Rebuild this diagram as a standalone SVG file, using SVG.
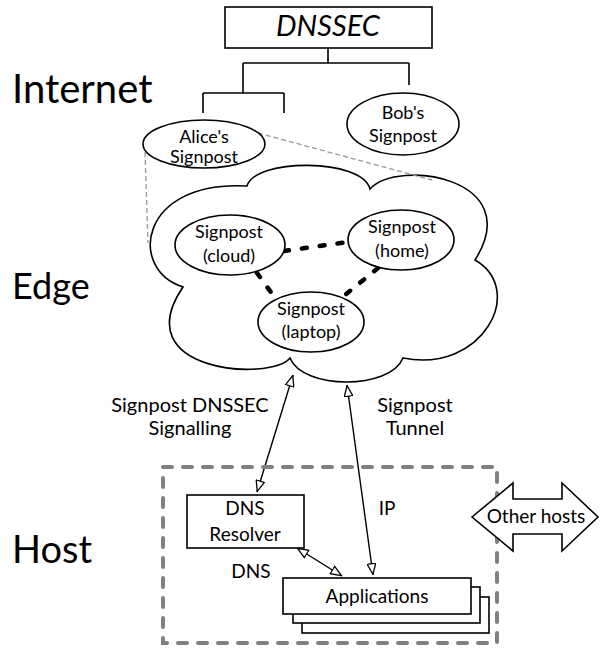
<svg xmlns="http://www.w3.org/2000/svg" width="600" height="648" viewBox="0 0 600 648">
<defs>
<style>
text{font-family:Lato,"Liberation Sans",sans-serif;fill:#000;text-anchor:middle}
.big{font-size:40px;text-anchor:start}
.lbl{font-size:19px}
.el{font-size:18px}
.shape{fill:#fff;stroke:#000;stroke-width:1.6}
.tree{fill:none;stroke:#000;stroke-width:1.6}
.arr{fill:none;stroke:#000;stroke-width:1.4;marker-start:url(#oa);marker-end:url(#oa)}
.peer{fill:none;stroke:#000;stroke-width:4.5;stroke-dasharray:5 13;stroke-linecap:round}
.zoomln{fill:none;stroke:#999;stroke-width:1.3;stroke-dasharray:5 3}
</style>
<marker id="oa" viewBox="0 0 12 10" refX="12" refY="5" markerWidth="12" markerHeight="10" markerUnits="userSpaceOnUse" orient="auto-start-reverse">
<path d="M0.7,0.7 L11.3,5 L0.7,9.3 Z" fill="#fff" stroke="#000" stroke-width="1.3"/>
</marker>
</defs>
<rect width="600" height="648" fill="#fff"/>

<g id="layer-labels">
<text class="big" x="12" y="103">Internet</text>
<text class="big" x="12" y="299" style="font-size:36px">Edge</text>
<text class="big" x="12" y="563" style="font-size:38px">Host</text>
</g>

<g id="edge-cloud">
<path class="shape" d="M247,186 C255,158 362,158 370,189 C398,158 527,178 475,260 C527,290 482,374 403,358 C390,390 303,390 290,358 C270,382 125,372 183,287 C128,270 138,180 247,186 Z"/>
</g>

<g id="connectors">
<path class="tree" d="M328,48 V63 M243,63 H409 M243,63 V93 M409,63 V85 M203,93 H284 M203,93 V113 M284,93 V113"/>
<path class="zoomln" d="M145,152 L148,243 M258,133 L432,180"/>
<path class="peer" d="M284,251 L348,242 M257,273 L273,295 M378,268 L345,295"/>
<path class="arr" d="M257,492 L293,375"/>
<path class="arr" d="M373,575 L347,385"/>
<path class="arr" d="M297,548 L342,576"/>
</g>

<g id="dnssec">
<rect class="shape" x="225" y="7" width="207" height="41"/>
<text x="328" y="36" style="font-size:29px;font-style:italic">DNSSEC</text>
</g>

<g id="alice-signpost">
<ellipse class="shape" cx="204" cy="144" rx="61" ry="24"/>
<text class="el" x="204" y="143">Alice's</text>
<text class="el" x="204" y="163">Signpost</text>
</g>

<g id="bob-signpost">
<ellipse class="shape" cx="403" cy="124" rx="56" ry="31"/>
<text class="el" x="403" y="119">Bob's</text>
<text class="el" x="403" y="142">Signpost</text>
</g>

<g id="signpost-cloud">
<ellipse class="shape" cx="230" cy="245" rx="55" ry="30"/>
<text class="el" x="229" y="238">Signpost</text>
<text class="el" x="229" y="262">(cloud)</text>
</g>

<g id="signpost-home">
<ellipse class="shape" cx="401" cy="240" rx="53" ry="30"/>
<text class="el" x="402" y="233">Signpost</text>
<text class="el" x="402" y="257">(home)</text>
</g>

<g id="signpost-laptop">
<ellipse class="shape" cx="311" cy="322" rx="53" ry="30"/>
<text class="el" x="311" y="315">Signpost</text>
<text class="el" x="311" y="338">(laptop)</text>
</g>

<g id="connector-labels">
<text class="lbl" x="190" y="412" style="font-size:20px">Signpost DNSSEC</text>
<text class="lbl" x="190" y="435" style="font-size:20px">Signalling</text>
<text class="lbl" x="415" y="412" style="font-size:20px">Signpost</text>
<text class="lbl" x="415" y="435" style="font-size:20px">Tunnel</text>
<text class="lbl" x="387" y="515">IP</text>
<text class="lbl" x="251" y="578">DNS</text>
</g>

<g id="host-box">
<rect x="163" y="467" width="334" height="176" fill="none" stroke="#808080" stroke-width="4" stroke-dasharray="9 11" stroke-linecap="round"/>
</g>

<g id="dns-resolver">
<rect class="shape" x="187" y="495" width="117" height="53"/>
<text class="lbl" x="245" y="515">DNS</text>
<text class="lbl" x="245" y="541">Resolver</text>
</g>

<g id="applications">
<rect class="shape" x="302" y="597" width="187" height="36"/>
<rect class="shape" x="293" y="587" width="187" height="36"/>
<rect class="shape" x="283" y="578" width="188" height="36"/>
<text class="lbl" x="377" y="603">Applications</text>
</g>

<g id="other-hosts">
<path class="shape" d="M472,517 L513,483 L513,499 L562,499 L562,483 L598,517 L562,551 L562,534 L513,534 L513,551 Z"/>
<text class="lbl" x="536" y="523">Other hosts</text>
</g>
</svg>
